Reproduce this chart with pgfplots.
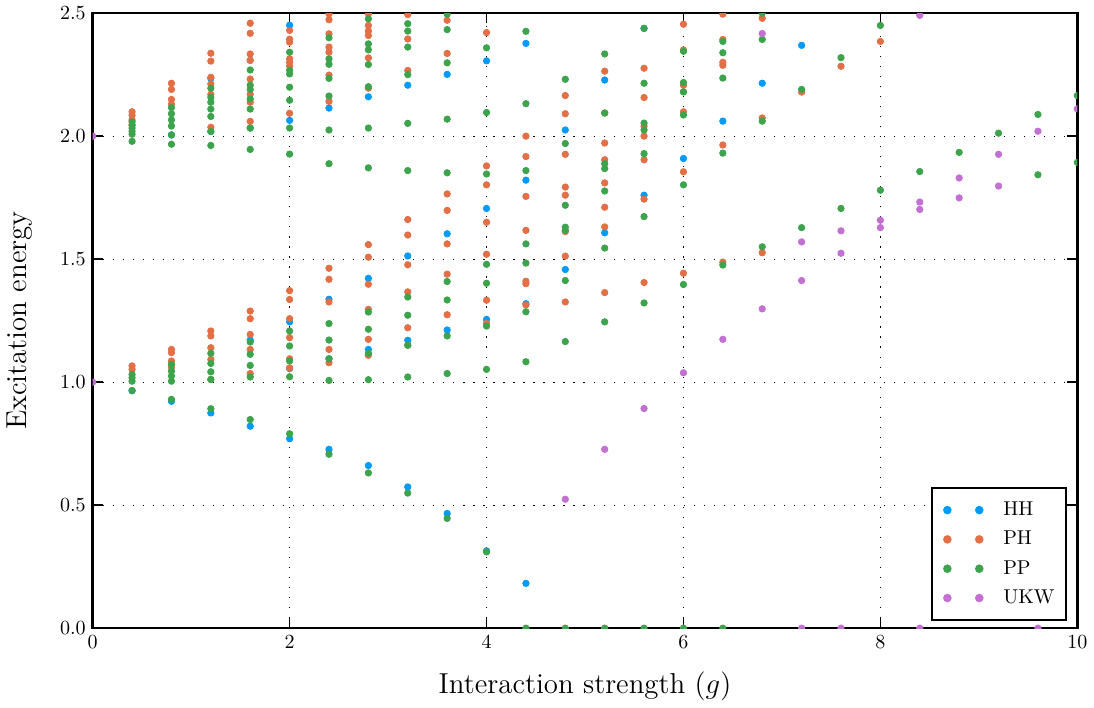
\documentclass[border=0pt]{standalone}
\usepackage{pgfplots}
\pgfplotsset{compat=1.18}
\definecolor{cHH}{HTML}{009AF9}
\definecolor{cPH}{HTML}{E26F46}
\definecolor{cPP}{HTML}{3DA44D}
\definecolor{cUKW}{HTML}{C271D2}
\begin{document}
\begin{tikzpicture}
\begin{axis}[
  scale only axis,
  width=491.5pt, height=307pt,
  xmin=0, xmax=10, ymin=0, ymax=2.5,
  clip marker paths=true,
  xtick={0,2,4,6,8,10},
  ytick={0,0.5,1,1.5,2,2.5},
  yticklabel style={/pgf/number format/fixed,/pgf/number format/precision=1,/pgf/number format/fixed zerofill},
  grid=major,
  major grid style={black, line width=0.6pt, dash pattern=on 0.6pt off 4.4pt},
  axis line style={black, line width=1.2pt},
  tick align=inside,
  major tick length=5pt,
  tick style={black, line width=0.8pt},
  xlabel={Interaction strength ($g$)},
  ylabel={Excitation energy},
  label style={font=\Large},
  xlabel shift=5pt,
  ylabel shift=7pt,
  legend style={at={(0.99,0.011)}, anchor=south east, draw=black, line width=1pt,
    row sep=2.3pt, inner xsep=4pt, inner ysep=5pt, font=\normalsize},
  legend cell align=left,
  legend image code/.code={\path[draw=none,fill=none] (-0.13cm,0cm) -- (0.91cm,0cm); \path[#1,draw=none] plot[only marks] coordinates {(0cm,0cm) (0.56cm,0cm)};},
  every axis plot/.append style={only marks, mark=*, mark size=1.6pt},
]
\addplot[cHH, mark options={fill=cHH, draw=cHH}] coordinates {
(0.4,0.965) (0.8,0.922) (0.8,2.005) (1.2,0.875) (1.2,2.019) (1.2,2.235)
(1.6,0.821) (1.6,1.171) (1.6,2.033) (1.6,2.308)
(2.0,0.770) (2.0,1.055) (2.0,1.245) (2.0,2.064) (2.0,2.451)
(2.4,0.727) (2.4,1.095) (2.4,1.337) (2.4,2.114)
(2.8,0.661) (2.8,1.133) (2.8,1.422) (2.8,2.160)
(3.2,0.574) (3.2,1.170) (3.2,1.513) (3.2,2.207)
(3.6,0.466) (3.6,1.212) (3.6,1.603) (3.6,2.251)
(4.0,0.314) (4.0,1.255) (4.0,1.706) (4.0,2.306)
(4.4,0.182) (4.4,1.319) (4.4,1.821) (4.4,2.377)
(4.8,1.458) (4.8,2.025)
(5.2,1.607) (5.2,2.228)
(5.6,1.760) (5.6,2.438)
(6.0,1.909) (6.4,2.061) (6.8,2.215) (7.2,2.369)
};
\addlegendentry{HH}
\addplot[cPH, mark options={fill=cPH, draw=cPH}] coordinates {
(0.4,1.066) (0.4,1.052) (0.4,2.099) (0.4,2.085) (0.4,2.065) (0.4,2.045)
(0.8,1.133) (0.8,1.120) (0.8,1.086) (0.8,1.060) (0.8,2.215) (0.8,2.190) (0.8,2.149) (0.8,2.130)
(1.2,1.208) (1.2,1.188) (1.2,1.140) (1.2,1.092) (1.2,1.011) (1.2,2.337) (1.2,2.305) (1.2,2.239) (1.2,2.212) (1.2,2.170) (1.2,2.036)
(1.6,1.289) (1.6,1.258) (1.6,1.194) (1.6,1.133) (1.6,1.035) (1.6,2.459) (1.6,2.418) (1.6,2.334) (1.6,2.308) (1.6,2.232) (1.6,2.170) (1.6,2.138) (1.6,2.060)
(2.0,1.372) (2.0,1.336) (2.0,1.258) (2.0,1.181) (2.0,1.095) (2.0,1.058) (2.0,2.430) (2.0,2.394) (2.0,2.382) (2.0,2.314) (2.0,2.300) (2.0,2.285) (2.0,2.093)
(2.4,1.463) (2.4,1.418) (2.4,1.326) (2.4,1.133) (2.4,1.079) (2.4,2.497) (2.4,2.473) (2.4,2.416) (2.4,2.362) (2.4,2.341) (2.4,2.248) (2.4,2.141)
(2.8,1.559) (2.8,1.508) (2.8,1.398) (2.8,1.296) (2.8,1.174) (2.8,1.109) (2.8,2.497) (2.8,2.450) (2.8,2.427) (2.8,2.409) (2.8,2.318) (2.8,2.195)
(3.2,1.661) (3.2,1.598) (3.2,1.477) (3.2,1.367) (3.2,1.221) (3.2,1.150) (3.2,2.494) (3.2,2.395) (3.2,2.267)
(3.6,1.765) (3.6,1.698) (3.6,1.562) (3.6,1.439) (3.6,1.274) (3.6,2.471) (3.6,2.336)
(4.0,1.879) (4.0,1.802) (4.0,1.650) (4.0,1.520) (4.0,1.333) (4.0,1.239) (4.0,2.421)
(4.4,2.000) (4.4,1.917) (4.4,1.755) (4.4,1.617) (4.4,1.410) (4.4,1.400) (4.4,1.314)
(4.8,2.165) (4.8,2.091) (4.8,1.926) (4.8,1.793) (4.8,1.760) (4.8,1.612) (4.8,1.512) (4.8,1.326)
(5.2,2.264) (5.2,2.094) (5.2,1.972) (5.2,1.904) (5.2,1.810) (5.2,1.711) (5.2,1.631) (5.2,1.364)
(5.6,2.276) (5.6,2.157) (5.6,2.040) (5.6,2.000) (5.6,1.904) (5.6,1.744) (5.6,1.405)
(6.0,2.455) (6.0,2.350) (6.0,2.207) (6.0,2.180) (6.0,2.099) (6.0,1.855) (6.0,1.443)
(6.4,2.496) (6.4,2.393) (6.4,2.300) (6.4,2.288) (6.4,1.964) (6.4,1.488)
(6.8,2.479) (6.8,2.074) (6.8,1.526)
(7.2,2.179) (7.6,2.284) (8.0,2.385)
};
\addlegendentry{PH}
\addplot[cPP, mark options={fill=cPP, draw=cPP}] coordinates {
(0.4,1.031) (0.4,1.018) (0.4,1.004) (0.4,0.966) (0.4,2.058) (0.4,2.045) (0.4,2.033) (0.4,2.020) (0.4,2.008) (0.4,1.979)
(0.8,1.072) (0.8,1.045) (0.8,1.025) (0.8,1.004) (0.8,0.930) (0.8,2.116) (0.8,2.091) (0.8,2.066) (0.8,2.041) (0.8,2.005) (0.8,1.967)
(1.2,1.117) (1.2,1.076) (1.2,1.042) (1.2,1.011) (1.2,0.892) (1.2,2.195) (1.2,2.158) (1.2,2.138) (1.2,2.110) (1.2,2.080) (1.2,2.019) (1.2,1.962)
(1.6,1.163) (1.6,1.113) (1.6,1.068) (1.6,1.021) (1.6,0.848) (1.6,2.269) (1.6,2.207) (1.6,2.190) (1.6,2.151) (1.6,2.110) (1.6,2.033) (1.6,1.946)
(2.0,1.208) (2.0,1.147) (2.0,1.086) (2.0,1.022) (2.0,0.790) (2.0,2.341) (2.0,2.268) (2.0,2.253) (2.0,2.199) (2.0,2.146) (2.0,2.033) (2.0,1.927)
(2.4,1.238) (2.4,1.171) (2.4,1.095) (2.4,1.007) (2.4,0.707) (2.4,2.400) (2.4,2.314) (2.4,2.292) (2.4,2.235) (2.4,2.163) (2.4,2.025) (2.4,1.888)
(2.8,1.285) (2.8,1.215) (2.8,1.117) (2.8,1.010) (2.8,0.631) (2.8,2.477) (2.8,2.375) (2.8,2.351) (2.8,2.291) (2.8,2.201) (2.8,2.033) (2.8,1.871)
(3.2,1.346) (3.2,1.272) (3.2,1.150) (3.2,1.021) (3.2,0.549) (3.2,2.457) (3.2,2.427) (3.2,2.362) (3.2,2.250) (3.2,2.052) (3.2,1.860)
(3.6,1.409) (3.6,1.334) (3.6,1.188) (3.6,1.035) (3.6,0.446) (3.6,2.496) (3.6,2.433) (3.6,2.298) (3.6,2.069) (3.6,1.851)
(4.0,1.479) (4.0,1.402) (4.0,1.228) (4.0,1.052) (4.0,0.310) (4.0,2.359) (4.0,2.096) (4.0,1.846)
(4.4,1.562) (4.4,1.484) (4.4,1.286) (4.4,1.083) (4.4,0.000) (4.4,2.426) (4.4,2.132) (4.4,1.860)
(4.8,1.719) (4.8,1.630) (4.8,1.617) (4.8,1.413) (4.8,1.165) (4.8,0.000) (4.8,2.231) (4.8,1.970)
(5.2,2.334) (5.2,2.094) (5.2,1.888) (5.2,1.868) (5.2,1.777) (5.2,1.545) (5.2,1.245) (5.2,0.000)
(5.6,2.438) (5.6,2.215) (5.6,2.053) (5.6,2.025) (5.6,1.929) (5.6,1.673) (5.6,1.322) (5.6,0.000)
(6.0,2.345) (6.0,2.218) (6.0,2.180) (6.0,2.086) (6.0,1.802) (6.0,1.397) (6.0,0.000)
(6.4,2.385) (6.4,2.339) (6.4,2.236) (6.4,1.931) (6.4,1.476) (6.4,0.000)
(6.8,2.500) (6.8,2.393) (6.8,2.061) (6.8,1.550)
(7.2,2.190) (7.2,1.628)
(7.6,2.319) (7.6,1.706)
(8.0,2.450) (8.0,1.780)
(8.4,1.856) (8.8,1.934) (9.2,2.012)
(9.6,2.088) (9.6,1.843)
(10.0,2.165) (10.0,1.893)
};
\addlegendentry{PP}
\addplot[cUKW, mark options={fill=cUKW, draw=cUKW}] coordinates {
(0,1.0) (0,2.0)
(4.8,0.524) (5.2,0.727) (5.6,0.893) (6.0,1.038) (6.4,1.174)
(6.8,1.298) (6.8,2.417)
(7.2,1.413) (7.2,1.570) (7.2,0.000)
(7.6,1.524) (7.6,1.615) (7.6,0.000)
(8.0,1.628) (8.0,1.658)
(8.4,1.702) (8.4,1.732) (8.4,2.491) (8.4,0.000)
(8.8,1.749) (8.8,1.830)
(9.2,1.797) (9.2,1.926)
(9.6,2.020) (9.6,0.000)
(10.0,2.111)
};
\addlegendentry{UKW}
\end{axis}
\end{tikzpicture}
\end{document}
